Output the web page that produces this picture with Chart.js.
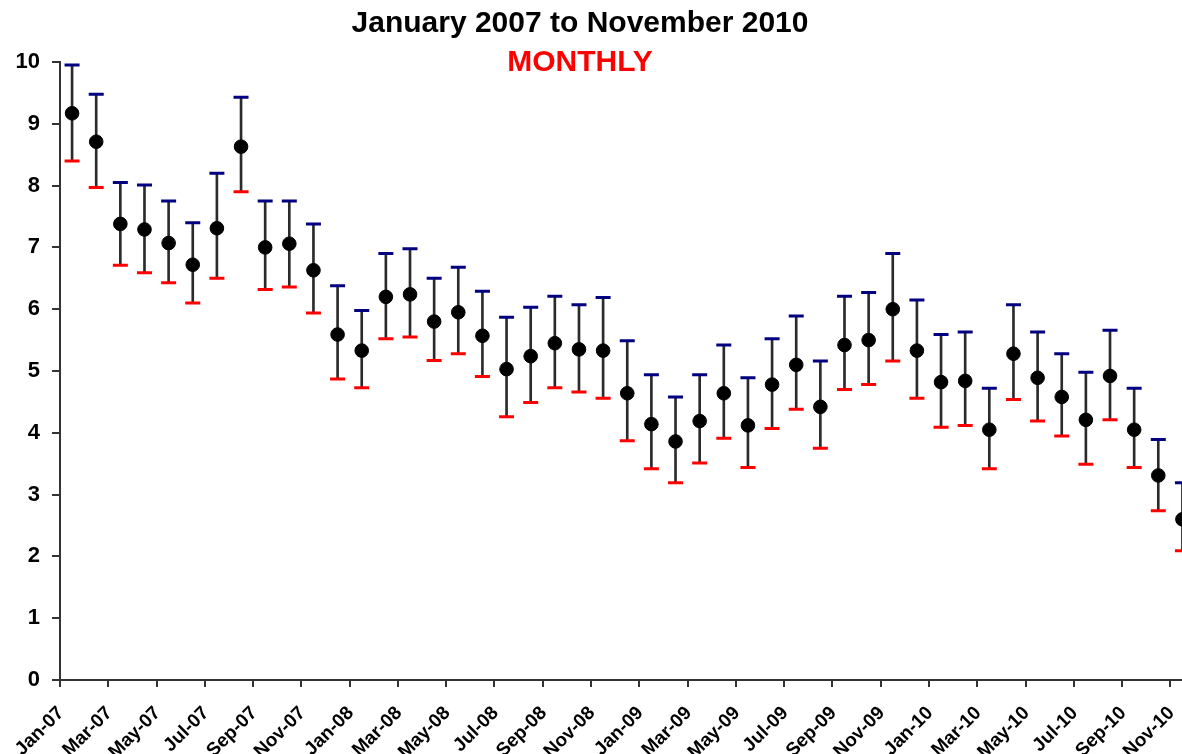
<!DOCTYPE html>
<html>
<head>
<meta charset="utf-8">
<script src="https://cdn.jsdelivr.net/npm/chart.js@4"></script>
<style>
  body { margin: 0; overflow: hidden; background: #fff; }
  #wrap { position: absolute; left: 0; top: 0; width: 1205px; height: 754px; }
  #errChart { display: block; width: 1205px; height: 754px; }
  .ttl { position: absolute; left: 0; width: 1160px; text-align: center;
         font-family: "Liberation Sans", Arial, sans-serif; font-weight: bold;
         font-size: 30px; line-height: 30px; white-space: nowrap; }
</style>
</head>
<body>
<div id="wrap">
  <canvas id="errChart" width="1205" height="754"></canvas>
  <div class="ttl" style="top:7px;color:#000">January 2007 to November 2010</div>
  <div class="ttl" style="top:46px;color:#ff0000">MONTHLY</div>
</div>
<script>
const months = [
  "Jan-07", "Feb-07", "Mar-07", "Apr-07", "May-07", "Jun-07", "Jul-07", "Aug-07", "Sep-07", "Oct-07", "Nov-07", "Dec-07",
  "Jan-08", "Feb-08", "Mar-08", "Apr-08", "May-08", "Jun-08", "Jul-08", "Aug-08", "Sep-08", "Oct-08", "Nov-08", "Dec-08",
  "Jan-09", "Feb-09", "Mar-09", "Apr-09", "May-09", "Jun-09", "Jul-09", "Aug-09", "Sep-09", "Oct-09", "Nov-09", "Dec-09",
  "Jan-10", "Feb-10", "Mar-10", "Apr-10", "May-10", "Jun-10", "Jul-10", "Aug-10", "Sep-10", "Oct-10", "Nov-10"
];

// monthly average
const means = [
  9.17, 8.71, 7.38, 7.29, 7.07, 6.72, 7.31, 8.63, 7.00, 7.06, 6.63, 5.59,
  5.33, 6.20, 6.24, 5.80, 5.95, 5.57, 5.03, 5.24, 5.45, 5.35, 5.33, 4.64,
  4.14, 3.86, 4.19, 4.64, 4.12, 4.78, 5.10, 4.42, 5.42, 5.50, 6.00, 5.33,
  4.82, 4.84, 4.05, 5.28, 4.89, 4.58, 4.21, 4.92, 4.05, 3.31, 2.60
];

// upper end of the bar (blue cap)
const highs = [
  9.95, 9.48, 8.05, 8.01, 7.75, 7.40, 8.20, 9.43, 7.75, 7.75, 7.38, 6.38,
  5.98, 6.90, 6.98, 6.50, 6.68, 6.29, 5.87, 6.03, 6.21, 6.07, 6.19, 5.49,
  4.94, 4.58, 4.94, 5.42, 4.89, 5.52, 5.89, 5.16, 6.21, 6.27, 6.90, 6.15,
  5.59, 5.63, 4.72, 6.07, 5.63, 5.28, 4.98, 5.66, 4.72, 3.89, 3.19
];

// lower end of the bar (red cap)
const lows = [
  8.40, 7.97, 6.71, 6.59, 6.43, 6.10, 6.50, 7.90, 6.32, 6.36, 5.94, 4.87,
  4.73, 5.52, 5.55, 5.17, 5.28, 4.91, 4.26, 4.49, 4.73, 4.66, 4.56, 3.87,
  3.42, 3.19, 3.51, 3.91, 3.44, 4.07, 4.38, 3.75, 4.70, 4.78, 5.16, 4.56,
  4.09, 4.12, 3.42, 4.54, 4.19, 3.95, 3.49, 4.21, 3.44, 2.74, 2.09
];

const yTicks = [0, 1, 2, 3, 4, 5, 6, 7, 8, 9, 10];

const axisColor = '#333';
const labelFont = { family: '"Liberation Sans", Arial, sans-serif', weight: 'bold' };

// every other month gets a tick + label
const shownTick = (i) => i % 2 === 0;

const ctx = document.getElementById('errChart').getContext('2d');

new Chart(ctx, {
  type: 'bar',
  data: {
    labels: months,
    datasets: [
      {
        // the vertical whisker, drawn as a floating bar
        type: 'bar',
        data: highs.map((h, i) => [lows[i], h]),
        backgroundColor: '#2b2b2b',
        barThickness: 2,
        order: 3
      },
      {
        type: 'line',
        data: highs,
        showLine: false,
        pointStyle: 'line',
        pointRadius: 7.5,
        pointBorderWidth: 3,
        pointBorderColor: '#000080',
        borderColor: '#000080',
        order: 2
      },
      {
        type: 'line',
        data: lows,
        showLine: false,
        pointStyle: 'line',
        pointRadius: 7.5,
        pointBorderWidth: 3,
        pointBorderColor: '#ff0000',
        borderColor: '#ff0000',
        order: 2
      },
      {
        type: 'line',
        data: means,
        showLine: false,
        pointStyle: 'circle',
        pointRadius: 6.8,
        pointBackgroundColor: '#000',
        pointBorderColor: '#000',
        pointBorderWidth: 1,
        order: 1
      }
    ]
  },
  options: {
    responsive: false,
    animation: false,
    events: [],
    layout: { padding: { top: 62, right: 4, left: 0, bottom: 0 } },
    plugins: {
      legend: { display: false },
      tooltip: { enabled: false }
    },
    scales: {
      x: {
        offset: true,
        afterFit: (scale) => {
          scale.height = 74;
          // the plot runs off the right edge, so no room is kept for the last label
          scale.paddingRight = 0;
          scale.paddingLeft = 0;
        },
        border: { color: axisColor, width: 2 },
        grid: {
          offset: true,
          drawOnChartArea: false,
          drawTicks: true,
          tickLength: 7,
          lineWidth: 2,
          color: (c) => shownTick(c.index) ? axisColor : 'rgba(0,0,0,0)',
          tickColor: (c) => shownTick(c.index) ? axisColor : 'rgba(0,0,0,0)'
        },
        ticks: {
          autoSkip: false,
          maxRotation: 45,
          minRotation: 45,
          labelOffset: -11,
          padding: 15,
          color: '#000',
          font: { ...labelFont, size: 19 },
          callback: (v, i) => shownTick(i) ? months[i] : ''
        }
      },
      y: {
        min: 0,
        max: 10,
        afterFit: (scale) => { scale.width = 60; },
        afterBuildTicks: (scale) => { scale.ticks = yTicks.map(v => ({ value: v })); },
        border: { color: axisColor, width: 2 },
        grid: {
          drawOnChartArea: false,
          drawTicks: true,
          tickLength: 8,
          lineWidth: 2,
          color: axisColor
        },
        ticks: {
          padding: 12,
          color: '#000',
          font: { ...labelFont, size: 22 }
        }
      }
    }
  }
});
</script>
</body>
</html>
